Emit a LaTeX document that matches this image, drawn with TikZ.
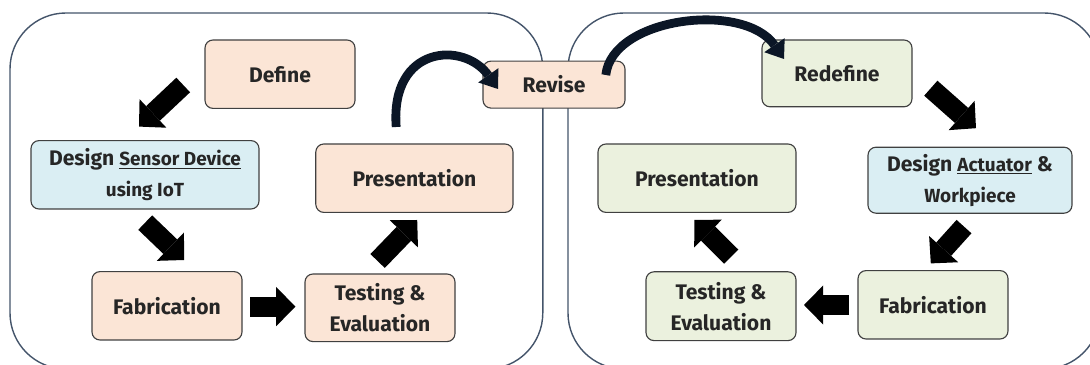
\documentclass[tikz,border=0pt]{standalone}
\usepackage{fontspec}
\setmainfont{Fira Sans}
\usetikzlibrary{arrows.meta}

\definecolor{peach}{HTML}{FBE5D6}
\definecolor{paleblue}{HTML}{DAEEF3}
\definecolor{palegreen}{HTML}{EBF1DE}
\definecolor{framecol}{HTML}{44546A}
\definecolor{navy}{HTML}{0B1626}

\newcommand{\smtxt}[1]{{\fontsize{13.5}{20}\selectfont #1}}

\begin{document}
\begin{tikzpicture}[
  box/.style={draw=black!75, line width=0.8pt, rounded corners=0.2cm, align=center,
    minimum height=1.71cm, inner sep=2pt, text=black!85,
    font=\fontsize{15}{22}\selectfont\bfseries},
  peachbox/.style={box, fill=peach},
  bluebox/.style={box, fill=paleblue},
  greenbox/.style={box, fill=palegreen},
  panel/.style={draw=framecol, line width=1pt, rounded corners=1.4cm},
  fat/.style={line width=0.5cm, -{Triangle[width=0.98cm, length=0.48cm, line width=0pt]}},
  curl/.style={draw=navy, line width=0.22cm, -{Triangle[width=0.62cm, length=0.42cm, line width=0pt]}}
]
\useasboundingbox (0,0) rectangle (27.25,9.125);
\clip (0,0) rectangle (27.25,9.125);

% =======================
% Panels
% =======================
\draw[panel] (0.25,-0.1) rectangle (13.57,8.8);
\draw[panel] (14.2,-0.1) rectangle (27.5,8.8);

% =======================
% Left cycle: sensor device
% =======================
\node[peachbox, minimum width=3.75cm] (define) at (7.0,7.27) {Define};
\node[bluebox, minimum width=5.7cm] (sensor) at (3.625,4.755)
  {Design \smtxt{\underline{Sensor Device}}\\ \smtxt{using IoT}};
\node[peachbox, minimum width=4.93cm] (presL) at (10.36,4.67) {Presentation};
\node[peachbox, minimum width=3.75cm] (fabL) at (4.175,1.48) {Fabrication};
\node[peachbox, minimum width=3.75cm, minimum height=1.69cm] (testL) at (9.5,1.43) {Testing \&\\Evaluation};

% Revise sits between both panels
\node[peachbox, minimum width=3.55cm, minimum height=1.175cm] (revise) at (13.85,7.01) {Revise};

% =======================
% Right cycle: actuator & workpiece
% =======================
\node[greenbox, minimum width=3.75cm, minimum height=1.67cm] (redefine) at (20.925,7.29) {Redefine};
\node[bluebox, minimum width=5.1cm, minimum height=1.65cm] (actuator) at (24.25,4.62)
  {Design \smtxt{\underline{Actuator}} \&\\ \smtxt{Workpiece}};
\node[greenbox, minimum width=4.95cm] (presR) at (17.425,4.67) {Presentation};
\node[greenbox, minimum width=3.75cm, minimum height=1.72cm] (testR) at (18.025,1.47) {Testing \&\\Evaluation};
\node[greenbox, minimum width=3.75cm] (fabR) at (23.325,1.505) {Fabrication};

% Arrow ends
\coordinate (a1s) at (4.58,7.0);   \coordinate (a1e) at (3.475,5.96);
\coordinate (a2s) at (3.63,3.56);  \coordinate (a2e) at (4.605,2.625);
\coordinate (a3s) at (6.26,1.46);  \coordinate (a3e) at (7.385,1.46);
\coordinate (a4s) at (9.44,2.6);   \coordinate (a4e) at (10.43,3.625);
\coordinate (a5s) at (23.27,6.92); \coordinate (a5e) at (24.4,5.92);
\coordinate (a6s) at (24.1,3.46);  \coordinate (a6e) at (23.27,2.54);
\coordinate (a7s) at (21.23,1.5);  \coordinate (a7e) at (20.1,1.5);
\coordinate (a8s) at (18.28,2.71); \coordinate (a8e) at (17.36,3.625);
\coordinate (c1s) at (9.905,5.95); \coordinate (c1e) at (12.45,6.9);
\coordinate (c2s) at (15.145,7.25); \coordinate (c2e) at (19.6,7.65);

% Block arrows
\foreach \u/\v in {a1s/a1e,a2s/a2e,a3s/a3e,a4s/a4e,a5s/a5e,a6s/a6e,a7s/a7e,a8s/a8e}{
  \draw[fat] (\u)--(\v);
}

% Curved arrows through Revise
\draw[curl] (c1s) .. controls (9.75,8.0) and (11.6,8.1) .. (c1e);
\draw[curl] (c2s) .. controls (15.3,8.7) and (18.6,9.1) .. (c2e);

\end{tikzpicture}
\end{document}
